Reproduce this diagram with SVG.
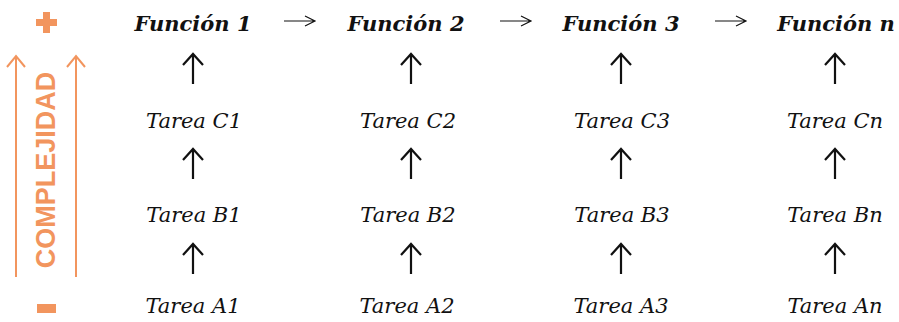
<svg xmlns="http://www.w3.org/2000/svg" width="899" height="322" viewBox="0 0 899 322">
<style>
.fn{font-family:"DejaVu Serif",serif;font-style:italic;font-weight:bold;font-size:21px;fill:#111;text-anchor:middle}
.tk{font-family:"DejaVu Serif",serif;font-style:italic;font-size:21px;fill:#111;text-anchor:middle}
.va{stroke:#111;stroke-width:2.2;fill:none}
.ha{stroke:#111;stroke-width:1.2;fill:none}
.or{stroke:#F2955E;stroke-width:2;fill:none}
</style>
<rect width="899" height="322" fill="#fff"/>
<g id="scale">
<rect x="36" y="19" width="21" height="7" fill="#F2955E"/>
<rect x="43" y="12" width="7" height="21" fill="#F2955E"/>
<rect x="37" y="304" width="19" height="9" fill="#F2955E"/>
<path class="or" d="M16 277V56M7 67L16 56L25 67"/>
<path class="or" d="M76 277V56M67 67L76 56L85 67"/>
<text transform="translate(55,170) rotate(-90)" font-family="'Liberation Sans',Arial,sans-serif" font-weight="bold" font-size="27" fill="#F2955E" text-anchor="middle">COMPLEJIDAD</text>
</g>
<g id="f1"><text class="fn" x="193" y="31">Función 1</text></g>
<g id="f2"><text class="fn" x="406" y="31">Función 2</text></g>
<g id="f3"><text class="fn" x="621" y="31">Función 3</text></g>
<g id="fn"><text class="fn" x="836" y="31">Función n</text></g>
<g id="c1"><text class="tk" x="194" y="128">Tarea C1</text></g>
<g id="c2"><text class="tk" x="408" y="128">Tarea C2</text></g>
<g id="c3"><text class="tk" x="622" y="128">Tarea C3</text></g>
<g id="cn"><text class="tk" x="835" y="128">Tarea Cn</text></g>
<g id="b1"><text class="tk" x="194" y="222">Tarea B1</text></g>
<g id="b2"><text class="tk" x="408" y="222">Tarea B2</text></g>
<g id="b3"><text class="tk" x="622" y="222">Tarea B3</text></g>
<g id="bn"><text class="tk" x="835" y="222">Tarea Bn</text></g>
<g id="a1"><text class="tk" x="193" y="313">Tarea A1</text></g>
<g id="a2"><text class="tk" x="407" y="313">Tarea A2</text></g>
<g id="a3"><text class="tk" x="621" y="313">Tarea A3</text></g>
<g id="an"><text class="tk" x="835" y="313">Tarea An</text></g>
<g id="connectors">
<path class="ha" d="M284 21H315M305 16L315 21L305 26"/>
<path class="ha" d="M500 21H531M521 16L531 21L521 26"/>
<path class="ha" d="M715 21H746M736 16L746 21L736 26"/>
<path class="va" d="M193 84V54M183 65L193 54L203 65"/>
<path class="va" d="M193 179V149M183 160L193 149L203 160"/>
<path class="va" d="M193 274V244M183 255L193 244L203 255"/>
<path class="va" d="M411 84V54M401 65L411 54L421 65"/>
<path class="va" d="M411 179V149M401 160L411 149L421 160"/>
<path class="va" d="M411 274V244M401 255L411 244L421 255"/>
<path class="va" d="M621 84V54M611 65L621 54L631 65"/>
<path class="va" d="M621 179V149M611 160L621 149L631 160"/>
<path class="va" d="M621 274V244M611 255L621 244L631 255"/>
<path class="va" d="M835 84V54M825 65L835 54L845 65"/>
<path class="va" d="M835 179V149M825 160L835 149L845 160"/>
<path class="va" d="M835 274V244M825 255L835 244L845 255"/>
</g>
</svg>
